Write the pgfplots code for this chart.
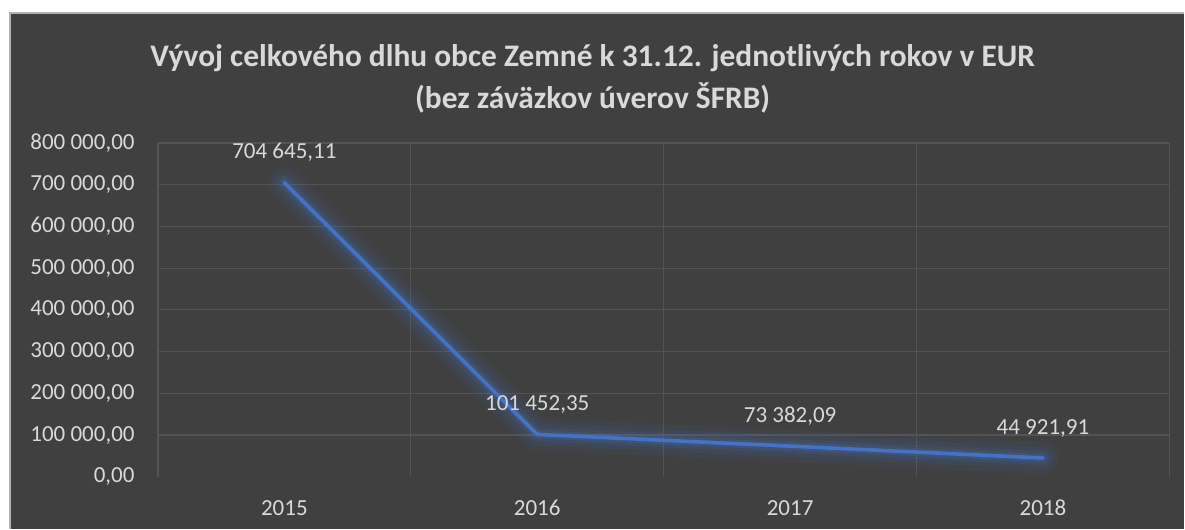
\documentclass[border=0pt]{standalone}
\usepackage{fontspec}
\setmainfont{Carlito}
\usepackage{pgfplots}
\pgfplotsset{compat=1.18}
\definecolor{bgdark}{HTML}{404040}
\definecolor{gridc}{HTML}{545454}
\definecolor{txt}{HTML}{D9D9D9}
\definecolor{linec}{HTML}{4472C4}
\begin{document}
\begin{tikzpicture}
\fill[white] (0,0) rectangle (592.5pt,264.5pt);
\fill[bgdark] (5pt,0) rectangle (592.5pt,258pt);
\draw[gray!60,line width=0.6pt] (5pt,0) -- (5pt,258pt) -- (592.5pt,258pt);
\node[txt,font=\fontsize{15.7}{18}\selectfont\bfseries] at (296.5pt,235.5pt) {Vývoj celkového dlhu obce Zemné k 31.12. jednotlivých rokov v EUR};
\node[txt,font=\fontsize{15.7}{18}\selectfont\bfseries] at (296.5pt,215.5pt) {(bez záväzkov úverov ŠFRB)};
\begin{axis}[
at={(79pt,26pt)},anchor=south west,
scale only axis,width=506pt,height=167pt,
xmin=-0.5,xmax=3.5,ymin=0,ymax=800000,
scaled y ticks=false,
axis line style={draw=none},
xtick={0,1,2,3},xticklabels={2015,2016,2017,2018},
minor xtick={-0.5,0.5,1.5,2.5,3.5},
ytick={100000,200000,...,800000},
yticklabels={{100 000,00},{200 000,00},{300 000,00},{400 000,00},{500 000,00},{600 000,00},{700 000,00},{800 000,00}},
extra y ticks={0},extra y tick labels={\mbox{0,00}},
extra y tick style={grid=none},
major tick length=0pt,minor tick length=0pt,
ymajorgrids,xminorgrids,
grid style={gridc,line width=0.6pt},
minor grid style={gridc,line width=0.6pt},
tick label style={txt,font=\fontsize{11.5}{13}\selectfont,inner sep=0pt},
yticklabel style={anchor=east,xshift=-11.5pt},
xticklabel style={anchor=north,yshift=-11.5pt},
clip=false,
]
\addplot[linec,opacity=0.07,line width=16pt,line cap=round,line join=round] coordinates {(0,704645.11)(1,101452.35)(2,73382.09)(3,44921.91)};
\addplot[linec,opacity=0.09,line width=11pt,line cap=round,line join=round] coordinates {(0,704645.11)(1,101452.35)(2,73382.09)(3,44921.91)};
\addplot[linec,opacity=0.13,line width=7pt,line cap=round,line join=round] coordinates {(0,704645.11)(1,101452.35)(2,73382.09)(3,44921.91)};
\addplot[linec,opacity=0.2,line width=4pt,line cap=round,line join=round] coordinates {(0,704645.11)(1,101452.35)(2,73382.09)(3,44921.91)};
\addplot[linec,line width=1.8pt,line cap=round,line join=round,
  point meta=explicit symbolic,nodes near coords,
  nodes near coords style={txt,font=\fontsize{11.5}{13}\selectfont,anchor=south,inner sep=0pt,yshift=9.5pt}]
  coordinates {(0,704645.11)[704 645,11] (1,101452.35)[101 452,35] (2,73382.09)[73 382,09] (3,44921.91)[44 921,91]};
\end{axis}
\end{tikzpicture}
\end{document}
